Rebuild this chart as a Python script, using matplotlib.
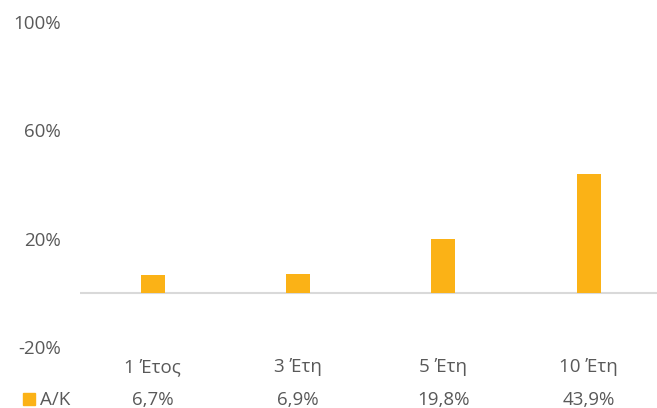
import matplotlib.pyplot as plt
from matplotlib.patches import Rectangle
from matplotlib import transforms

categories = ["1 Έτος", "3 Έτη", "5 Έτη", "10 Έτη"]
values = [6.7, 6.9, 19.8, 43.9]
value_labels = ["6,7%", "6,9%", "19,8%", "43,9%"]
series_name = "Α/Κ"
yticks = [-20, 20, 60, 100]

W, H = 657, 408
bar_color = "#FBB216"
text_color = "#595959"

plt.rcParams["font.family"] = ["Open Sans", "DejaVu Sans"]
plt.rcParams["font.size"] = 13.5

fig = plt.figure(figsize=(W / 100, H / 100), dpi=100)
ax = fig.add_axes([80 / W, 1 - 347 / H, 1 - 80 / W, (347 - 22) / H])

x = list(range(len(categories)))
ax.bar(x, values, width=0.165, color=bar_color, zorder=3)
ax.axhline(0, color="#D9D9D9", lw=1.5, zorder=2)

ax.set_xlim(-0.5, 3.47)
ax.set_ylim(-20, 100)
ax.set_yticks(yticks)
ax.set_yticklabels([f"{t}%" for t in yticks], color=text_color)
ax.tick_params(axis="y", length=0, pad=14)
ax.set_xticks([])
for s in ax.spines.values():
    s.set_visible(False)

# data table under the plot
tr = transforms.blended_transform_factory(ax.transData, fig.transFigure)
for i, (c, v) in enumerate(zip(categories, value_labels)):
    ax.text(i, 1 - 372 / H, c, transform=tr, ha="center", va="baseline",
            color=text_color, clip_on=False)
    ax.text(i, 1 - 405 / H, v, transform=tr, ha="center", va="baseline",
            color=text_color, clip_on=False)

fig.add_artist(Rectangle((23 / W, 1 - 405 / H), 12 / W, 12 / H,
                         transform=fig.transFigure, color=bar_color))
fig.text(40 / W, 1 - 405 / H, series_name, ha="left", va="baseline",
         color=text_color)

fig.savefig("out.png", dpi=100)
